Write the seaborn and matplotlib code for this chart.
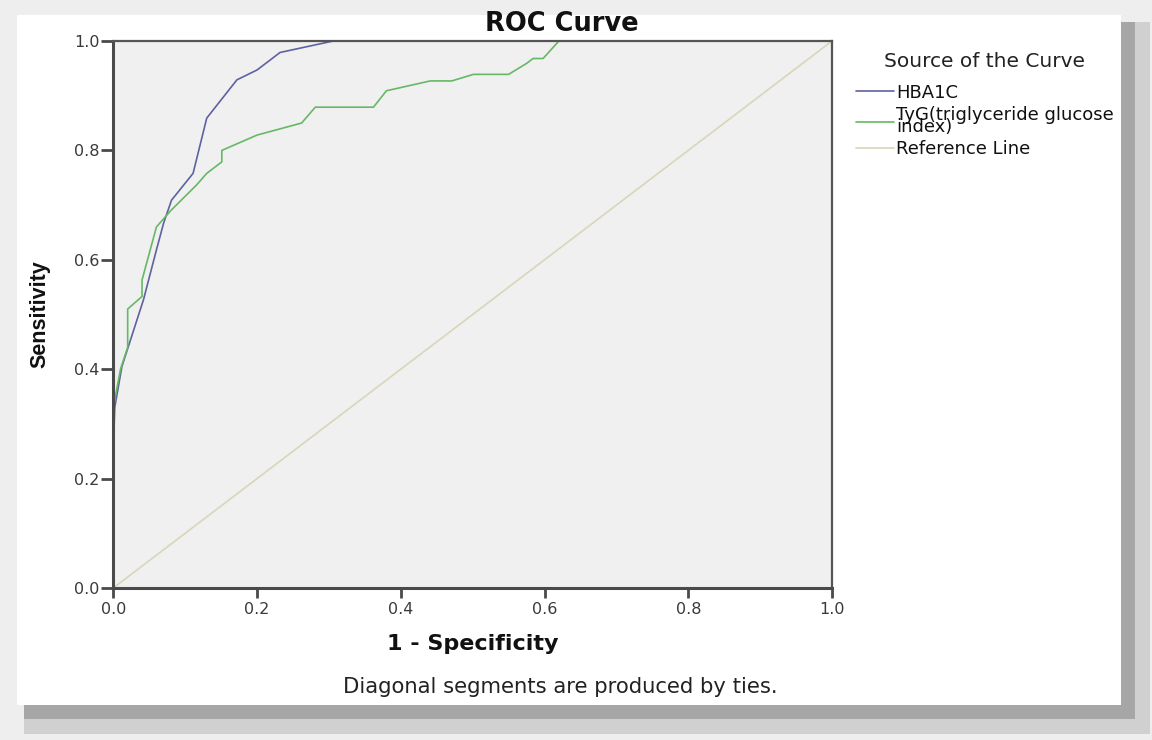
import matplotlib
matplotlib.use("Agg")
import matplotlib.pyplot as plt
import matplotlib.patches as mpatches
import seaborn as sns
import pandas as pd

# ROC points (1 - specificity, sensitivity)
hba1c_fpr = [0.0, 0.0, 0.002, 0.012, 0.042, 0.06, 0.07, 0.081, 0.111, 0.13, 0.172, 0.2, 0.232, 0.306, 1.0]
hba1c_tpr = [0.0, 0.25, 0.33, 0.405, 0.527, 0.618, 0.667, 0.709, 0.758, 0.859, 0.929, 0.947, 0.979, 1.0, 1.0]

tyg_fpr = [0.0, 0.0, 0.01, 0.02, 0.02, 0.04, 0.04, 0.06, 0.08, 0.116, 0.13, 0.151, 0.151, 0.2, 0.262,
           0.281, 0.362, 0.38, 0.441, 0.471, 0.501, 0.55, 0.575, 0.584, 0.598, 0.62, 1.0]
tyg_tpr = [0.0, 0.33, 0.40, 0.44, 0.51, 0.533, 0.563, 0.66, 0.69, 0.737, 0.758, 0.779, 0.80, 0.828, 0.85,
           0.879, 0.879, 0.909, 0.927, 0.927, 0.939, 0.939, 0.959, 0.968, 0.968, 1.0, 1.0]

ref_fpr = [0.0, 1.0]
ref_tpr = [0.0, 1.0]

labels = ["HBA1C", "TyG(triglyceride glucose\nindex)", "Reference Line"]
colors = ["#5e629e", "#66b866", "#d9d6b8"]
ticks = [0.0, 0.2, 0.4, 0.6, 0.8, 1.0]

df = pd.concat([
    pd.DataFrame({"fpr": hba1c_fpr, "tpr": hba1c_tpr, "curve": labels[0]}),
    pd.DataFrame({"fpr": tyg_fpr, "tpr": tyg_tpr, "curve": labels[1]}),
    pd.DataFrame({"fpr": ref_fpr, "tpr": ref_tpr, "curve": labels[2]}),
], ignore_index=True)

sns.set_theme(style="white")
plt.rcParams['font.family'] = ['DejaVu Sans']

fig = plt.figure(figsize=(11.52, 7.4), dpi=100)
fig.patch.set_facecolor("#eeeeee")

W, H = 1152, 740
def box(x0, y0, x1, y1, c):
    fig.patches.append(mpatches.Rectangle((x0 / W, 1 - y1 / H), (x1 - x0) / W, (y1 - y0) / H,
                                          transform=fig.transFigure, facecolor=c, edgecolor="none", zorder=-10))

# shadowed frame like the screenshot
box(1135, 22, 1150, 734, "#d0d0d0")
box(24, 719, 1150, 734, "#d0d0d0")
box(1121, 22, 1135, 719, "#a6a6a6")
box(24, 705, 1135, 719, "#a6a6a6")
box(17, 15, 1121, 705, "#ffffff")

ax = fig.add_axes([113.3 / W, 1 - 588 / H, 718.7 / W, 547 / H])
ax.set_facecolor("#f0f0f0")

sns.lineplot(data=df, x="fpr", y="tpr", hue="curve", palette=colors, sort=False,
             estimator=None, linewidth=1.2, ax=ax)

ax.set_xlim(0, 1)
ax.set_ylim(0, 1)
ax.set_xticks(ticks)
ax.set_yticks(ticks)
ax.set_xticklabels([f"{t:.1f}" for t in ticks], fontsize=11.5, color="#3a3a3a")
ax.set_yticklabels([f"{t:.1f}" for t in ticks], fontsize=11.5, color="#3a3a3a")
ax.tick_params(axis="both", bottom=True, left=True, direction="out", length=9, width=2,
               color="#4a4a4a", pad=1)
ax.tick_params(axis="x", length=7, pad=3)

for side in ["left", "bottom"]:
    ax.spines[side].set_linewidth(2.2)
    ax.spines[side].set_color("#4a4a4a")
for side in ["top", "right"]:
    ax.spines[side].set_linewidth(1.6)
    ax.spines[side].set_color("#555555")

ax.set_xlabel("1 - Specificity", fontsize=16, fontweight="bold", labelpad=12, color="#111111")
ax.set_ylabel("Sensitivity", fontsize=15.5, fontweight="bold", labelpad=17, color="#111111",
              family=['Liberation Sans Narrow', 'Liberation Sans', 'DejaVu Sans'])
fig.text(562 / W, 1 - 24 / H, "ROC Curve", ha="center", va="center", fontsize=18.5,
         fontweight="bold", color="#111111")
fig.text(560 / W, 1 - 687 / H, "Diagonal segments are produced by ties.", ha="center", va="center",
         fontsize=15.2, color="#222222")

handles, lbls = ax.get_legend_handles_labels()
ax.legend(handles, lbls, title="Source of the Curve", loc="upper left",
          bbox_to_anchor=(856 / W, 1 - 52 / H), bbox_transform=fig.transFigure,
          frameon=False, fontsize=13, title_fontsize=14.5, handlelength=2.1,
          handletextpad=0.12, labelspacing=0.25, borderaxespad=0, borderpad=0)
leg = ax.get_legend()
leg._legend_box.sep = 9
for t in leg.get_texts():
    t.set_linespacing(0.55)
    t.set_color("#111111")
leg.get_title().set_color("#222222")

fig.savefig("out.png", dpi=100, facecolor=fig.get_facecolor())
